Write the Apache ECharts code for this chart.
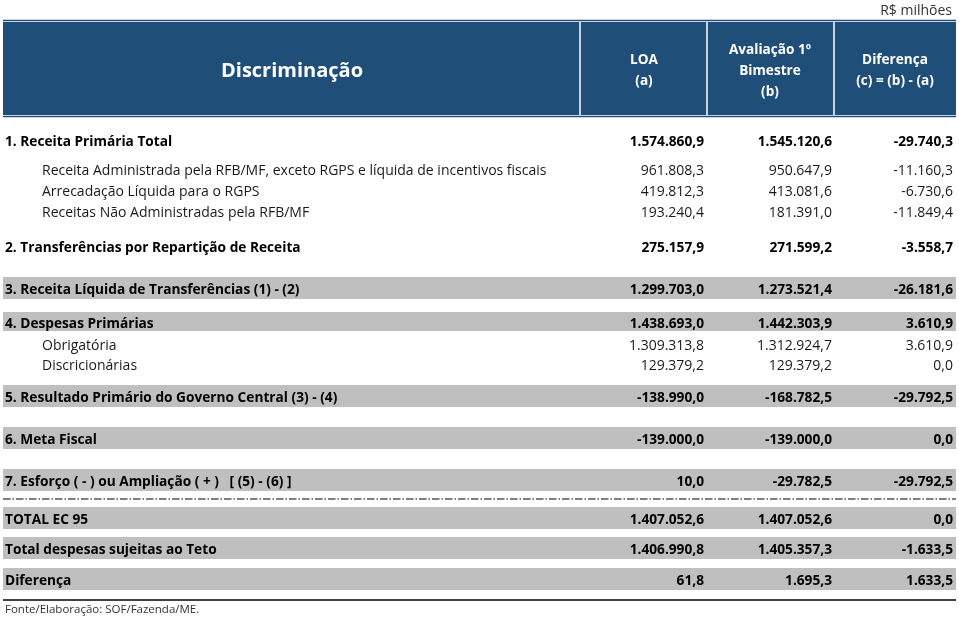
<!DOCTYPE html>
<html>
<head>
<meta charset="utf-8">
<script src="https://cdn.jsdelivr.net/npm/echarts@6/dist/echarts.min.js"></script>
<style>
html,body{margin:0;padding:0;background:#fff;}
#chart{width:959px;height:618px;}
</style>
</head>
<body>
<div id="chart"></div>
<script>
// ---------- data ----------
const unitLabel = 'R$ milhões';
const headerLabels = ['Discriminação', 'LOA\n(a)', 'Avaliação 1º\nBimestre\n(b)', 'Diferença\n(c) = (b) - (a)'];
const rowLabels = [
  '1. Receita Primária Total',
  'Receita Administrada pela RFB/MF, exceto RGPS e líquida de incentivos fiscais',
  'Arrecadação Líquida para o RGPS',
  'Receitas Não Administradas pela RFB/MF',
  '2. Transferências por Repartição de Receita',
  '3. Receita Líquida de Transferências (1) - (2)',
  '4. Despesas Primárias',
  'Obrigatória',
  'Discricionárias',
  '5. Resultado Primário do Governo Central (3) - (4)',
  '6. Meta Fiscal',
  '7. Esforço ( - ) ou Ampliação ( + )   [ (5) - (6) ]',
  'TOTAL EC 95',
  'Total despesas sujeitas ao Teto',
  'Diferença'
];
const loaValues = [1574860.9, 961808.3, 419812.3, 193240.4, 275157.9, 1299703.0, 1438693.0, 1309313.8, 129379.2, -138990.0, -139000.0, 10.0, 1407052.6, 1406990.8, 61.8];
const avalValues = [1545120.6, 950647.9, 413081.6, 181391.0, 271599.2, 1273521.4, 1442303.9, 1312924.7, 129379.2, -168782.5, -139000.0, -29782.5, 1407052.6, 1405357.3, 1695.3];
const difValues = [-29740.3, -11160.3, -6730.6, -11849.4, -3558.7, -26181.6, 3610.9, 3610.9, 0.0, -29792.5, 0.0, -29792.5, 0.0, -1633.5, 1633.5];
// row kind: b = bold, s = sub-item, g = bold on grey band
const rowKinds = ['b','s','s','s','b','g','g','s','s','g','g','g','g','g','g'];
const sourceNote = 'Fonte/Elaboração: SOF/Fazenda/ME.';

// ---------- layout (pixel space of the grid) ----------
const W = 959, H = 618;
const rowY = [142, 171, 192, 213, 248, 290, 324, 346, 366, 398, 440, 482, 520, 550, 581];
const bandTop = {5: 277, 6: 312, 9: 385, 10: 427, 11: 469, 12: 507, 13: 537, 14: 568};
const bandBot = {5: 299, 6: 331, 9: 407, 10: 449, 11: 491, 12: 529, 13: 559, 14: 590};
const colRight = [704, 832, 953];
const colCenter = [292, 644, 770, 895];
const colDiv = [580, 707, 834];
const FONT = '"Open Sans", sans-serif';

function fmt(v) {
  const neg = v < 0;
  const parts = Math.abs(v).toFixed(1).split('.');
  const ip = parts[0].replace(/\B(?=(\d{3})+(?!\d))/g, '.');
  return (neg ? '-' : '') + ip + ',' + parts[1];
}

const chart = echarts.init(document.getElementById('chart'), null, {renderer: 'canvas'});

const rowData = rowLabels.map((l, i) => [i]);

function renderHeader(params, api) {
  const p0 = api.coord([3, 22]);
  const p1 = api.coord([956, 115]);
  const children = [];
  children.push({type: 'rect', shape: {x: p0[0], y: p0[1], width: p1[0] - p0[0], height: p1[1] - p0[1]}, style: {fill: '#1f4e79'}});
  [20.5, 116.5].forEach(y => {
    const a = api.coord([3, y]), b = api.coord([956, y]);
    children.push({type: 'line', shape: {x1: a[0], y1: a[1], x2: b[0], y2: b[1]}, style: {stroke: '#1f4e79', lineWidth: 1.4}});
  });
  colDiv.forEach(x => {
    const a = api.coord([x, 22]), b = api.coord([x, 115]);
    children.push({type: 'line', shape: {x1: a[0], y1: a[1], x2: b[0], y2: b[1]}, style: {stroke: '#ffffff', lineWidth: 1.5}});
  });
  headerLabels.forEach((t, i) => {
    const c = api.coord([colCenter[i], 71]);
    children.push({type: 'text', style: {
      text: t, x: c[0], y: c[1], align: 'center', verticalAlign: 'middle',
      fill: '#ffffff', font: (i === 0 ? 'bold 20px ' : 'bold 13.6px ') + FONT,
      lineHeight: i === 0 ? 24 : 21
    }});
  });
  const u = api.coord([952, 11]);
  children.push({type: 'text', style: {text: unitLabel, x: u[0], y: u[1], align: 'right', verticalAlign: 'middle', fill: '#333', font: '14px ' + FONT}});
  // dash-dot separator
  const d0 = api.coord([3, 499]), d1 = api.coord([956, 499]);
  children.push({type: 'line', shape: {x1: d0[0], y1: d0[1], x2: d1[0], y2: d1[1]}, style: {stroke: '#000', lineWidth: 1.2, lineDash: [7.5, 2, 1.5, 2]}});
  // bottom rule
  const b0 = api.coord([3, 600]), b1 = api.coord([956, 600]);
  children.push({type: 'line', shape: {x1: b0[0], y1: b0[1], x2: b1[0], y2: b1[1]}, style: {stroke: '#000', lineWidth: 1.4}});
  const f = api.coord([5, 610]);
  children.push({type: 'text', style: {text: sourceNote, x: f[0], y: f[1], align: 'left', verticalAlign: 'middle', fill: '#333', font: '11.5px ' + FONT}});
  return {type: 'group', children: children};
}

function renderRow(params, api) {
  const i = api.value(0);
  const kind = rowKinds[i];
  const children = [];
  if (kind === 'g') {
    const a = api.coord([3, bandTop[i]]), b = api.coord([956, bandBot[i]]);
    children.push({type: 'rect', shape: {x: a[0], y: a[1], width: b[0] - a[0], height: b[1] - a[1]}, style: {fill: '#bfbfbf'}});
  }
  const bold = kind !== 's';
  const font = (bold ? 'bold 13.7px ' : '14px ') + FONT;
  const color = bold ? '#000' : '#1a1a1a';
  const lp = api.coord([kind === 's' ? 42 : 5, rowY[i]]);
  children.push({type: 'text', style: {text: rowLabels[i], x: lp[0], y: lp[1], align: 'left', verticalAlign: 'middle', fill: color, font: font}});
  [loaValues[i], avalValues[i], difValues[i]].forEach((v, k) => {
    const p = api.coord([colRight[k], rowY[i]]);
    children.push({type: 'text', style: {text: fmt(v), x: p[0], y: p[1], align: 'right', verticalAlign: 'middle', fill: color, font: font}});
  });
  return {type: 'group', children: children};
}

chart.setOption({
  animation: false,
  backgroundColor: '#ffffff',
  grid: {left: 0, top: 0, width: W, height: H},
  xAxis: {type: 'value', min: 0, max: W, show: false},
  yAxis: {type: 'value', min: 0, max: H, inverse: true, show: false},
  series: [
    {type: 'custom', name: 'header', data: [[0]], renderItem: renderHeader, silent: true, clip: false},
    {type: 'custom', name: 'rows', data: rowData, renderItem: renderRow, silent: true, clip: false}
  ]
});
</script>
</body>
</html>
